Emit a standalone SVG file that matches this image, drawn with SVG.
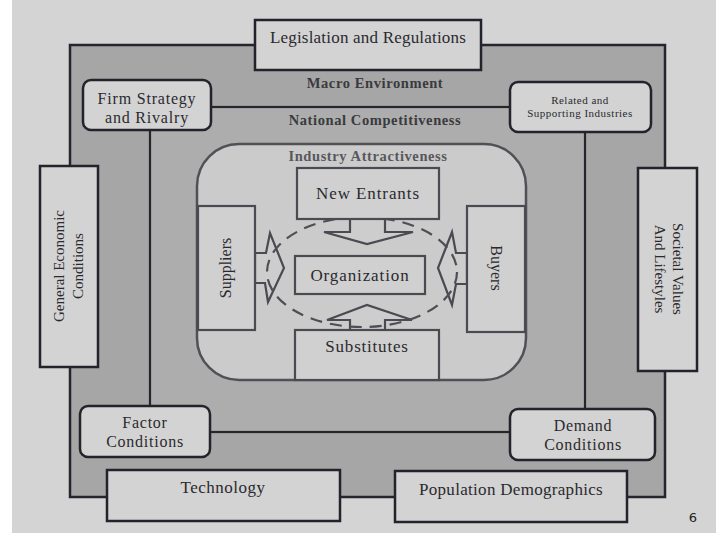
<svg xmlns="http://www.w3.org/2000/svg" width="720" height="540" viewBox="0 0 720 540">
<defs>
<style>
.t{font-family:"Liberation Serif","Times New Roman",serif;fill:#2a2a2e;text-anchor:middle}
.b{font-weight:bold;font-size:14.5px;letter-spacing:0.6px;fill:#3a3a3e}
.c{font-size:17px;letter-spacing:0.9px}
.n{font-size:16px;letter-spacing:0.8px}
.box{fill:#d3d3d3;stroke:#23232b;stroke-width:2.5}
.ibox{fill:#d0d0d0;stroke:#4a4a50;stroke-width:2.2}
.arr{fill:#cdcdcd;stroke:#4a4a50;stroke-width:2.2;stroke-linejoin:miter}
</style>
</defs>
<rect x="0" y="0" width="720" height="540" fill="#ffffff"/>
<rect x="12" y="0" width="704" height="533" fill="#d4d4d4"/>

<g id="macro-environment">
<rect x="70" y="45" width="595" height="452" fill="#a6a6a6" stroke="#25252d" stroke-width="2.5"/>
<text class="t b" x="375" y="88">Macro Environment</text>
</g>
<g id="national-competitiveness">
<rect x="150" y="107" width="435" height="325" fill="#adadad" stroke="#25252d" stroke-width="2.2"/>
<text class="t b" x="375" y="125">National Competitiveness</text>
</g>
<g id="industry-attractiveness">
<rect x="197" y="144" width="329" height="236" rx="42" fill="#cbcbcb" stroke="#505056" stroke-width="2.5"/>
<text class="t b" x="368" y="161" style="fill:#58585c">Industry Attractiveness</text>
</g>

<g id="connectors">
<polygon class="arr" points="350,219 350,232 324,232 367,244 413,232 385,232 385,219"/>
<polygon class="arr" points="350,330 350,320 327,320 367,305 412,320 385,320 385,330"/>
<polygon class="arr" points="255,253 266,253 270,233 284,268 268,302 265,283 255,283"/>
<polygon class="arr" points="467,253 456,253 452,232 438,268 452,305 456,284 467,284"/>
<ellipse cx="362" cy="272" rx="95" ry="55" fill="none" stroke="#4e4e54" stroke-width="2.2" stroke-dasharray="12 8"/>
</g>

<g id="new-entrants"><rect class="ibox" x="297" y="168" width="142" height="51"/><text class="t c" x="368" y="199">New Entrants</text></g>
<g id="organization"><rect class="ibox" x="295" y="256" width="130" height="38"/><text class="t c" x="360" y="281">Organization</text></g>
<g id="substitutes"><rect class="ibox" x="295" y="330" width="144" height="50"/><text class="t c" x="367" y="352" style="letter-spacing:0.8px">Substitutes</text></g>
<g id="suppliers"><rect class="ibox" x="198" y="206" width="57" height="124"/><text class="t" font-size="16" transform="translate(231,268) rotate(-90)">Suppliers</text></g>
<g id="buyers"><rect class="ibox" x="467" y="206" width="58" height="126"/><text class="t" font-size="16" transform="translate(491,268) rotate(90)">Buyers</text></g>

<g id="legislation"><rect class="box" x="255" y="20" width="226" height="50"/><text class="t" x="368" y="43" font-size="17" style="letter-spacing:0.2px">Legislation and Regulations</text></g>
<g id="firm-strategy"><rect class="box" x="83" y="80" width="128" height="50" rx="8"/><text class="t n" x="147" y="104">Firm Strategy</text><text class="t n" x="147" y="123">and Rivalry</text></g>
<g id="related-industries"><rect class="box" x="510" y="82" width="141" height="50" rx="8"/><text class="t" x="580" y="104" font-size="11" style="letter-spacing:0.5px">Related and</text><text class="t" x="580" y="117" font-size="11" style="letter-spacing:0.5px">Supporting Industries</text></g>
<g id="general-economic"><rect class="box" x="40" y="166" width="58" height="201"/><text class="t" font-size="15" transform="translate(64,266) rotate(-90)">General Economic</text><text class="t" font-size="15" transform="translate(83,266) rotate(-90)">Conditions</text></g>
<g id="societal-values"><rect class="box" x="638" y="168" width="59" height="203"/><text class="t" font-size="15" transform="translate(673,269) rotate(90)">Societal Values</text><text class="t" font-size="15" transform="translate(655,269) rotate(90)">And Lifestyles</text></g>
<g id="factor-conditions"><rect class="box" x="80" y="406" width="130" height="51" rx="8"/><text class="t n" x="145" y="428" style="letter-spacing:0.75px">Factor</text><text class="t n" x="145" y="447" style="letter-spacing:0.75px">Conditions</text></g>
<g id="demand-conditions"><rect class="box" x="510" y="409" width="145" height="51" rx="8"/><text class="t n" x="583" y="431" style="letter-spacing:0.75px">Demand</text><text class="t n" x="583" y="450" style="letter-spacing:0.75px">Conditions</text></g>
<g id="technology"><rect class="box" x="107" y="470" width="233" height="51"/><text class="t" x="223" y="493" font-size="17" style="letter-spacing:0.5px">Technology</text></g>
<g id="population-demographics"><rect class="box" x="395" y="471" width="232" height="51"/><text class="t" x="511" y="495" font-size="17" style="letter-spacing:0.3px">Population Demographics</text></g>

<text x="693" y="522" font-family="'DejaVu Sans',sans-serif" font-size="13" fill="#222" text-anchor="middle">6</text>
</svg>
